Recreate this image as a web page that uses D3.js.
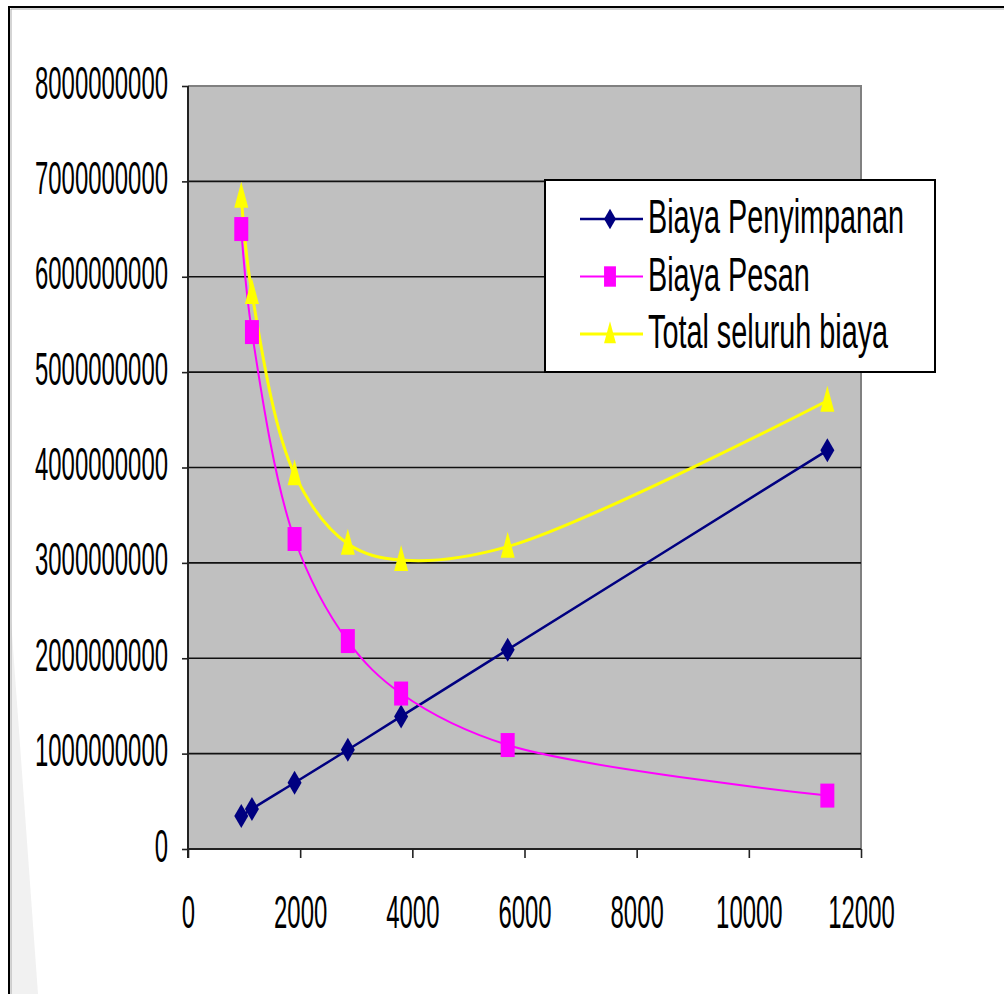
<!DOCTYPE html>
<html>
<head>
<meta charset="utf-8">
<script src="https://cdn.jsdelivr.net/npm/d3@7"></script>
<style>
  body { margin: 0; background: #fff; }
  svg { display: block; font-family: "Liberation Sans", Arial, sans-serif; }
</style>
</head>
<body>
<div id="chart"></div>
<script>
// values
const qty = [950, 1140, 1900, 2850, 3800, 5700, 11400];
const biayaPenyimpanan = [3.45e8, 4.2e8, 6.95e8, 1.04e9, 1.39e9, 2.09e9, 4.18e9];
const biayaPesan = [6.5e9, 5.42e9, 3.25e9, 2.18e9, 1.63e9, 1.09e9, 5.6e8];
const totalBiaya = [6.84e9, 5.83e9, 3.93e9, 3.2e9, 3.03e9, 3.17e9, 4.7e9];
const seriesNames = ["Biaya Penyimpanan", "Biaya Pesan", "Total seluruh biaya"];
const xTicks = [0, 2000, 4000, 6000, 8000, 10000, 12000];
const yTicks = [0, 1e9, 2e9, 3e9, 4e9, 5e9, 6e9, 7e9, 8e9];

const W = 1004, H = 994;
const plot = { left: 188, right: 861, top: 86, bottom: 849 };

const svg = d3.select("#chart").append("svg")
  .attr("width", W)
  .attr("height", H);

svg.append("rect").attr("width", W).attr("height", H).attr("fill", "#fff");

// faint wedge at lower left
svg.append("path")
  .attr("d", "M11,620 L38,994 L11,994 Z")
  .attr("fill", "#f1f1f1");

// outer frame (top and left)
svg.append("path")
  .attr("d", `M9,${H} L9,7 L${W},7`)
  .attr("fill", "none")
  .attr("stroke", "#000")
  .attr("stroke-width", 2);
svg.append("path")
  .attr("d", `M11,${H} L11,9 L${W},9`)
  .attr("fill", "none")
  .attr("stroke", "#aaa")
  .attr("stroke-width", 1);

const x = d3.scaleLinear().domain([0, 12000]).range([plot.left, plot.right]);
const y = d3.scaleLinear().domain([0, 8e9]).range([plot.bottom, plot.top]);

// plot area
svg.append("rect")
  .attr("x", plot.left)
  .attr("y", plot.top)
  .attr("width", plot.right - plot.left)
  .attr("height", plot.bottom - plot.top)
  .attr("fill", "#c0c0c0");

svg.append("path")
  .attr("d", `M${plot.left},${plot.top} L${plot.right},${plot.top} L${plot.right},${plot.bottom}`)
  .attr("fill", "none")
  .attr("stroke", "#808080")
  .attr("stroke-width", 2);

// gridlines
svg.append("g")
  .selectAll("line")
  .data(yTicks.slice(1, -1))
  .join("line")
  .attr("x1", plot.left)
  .attr("x2", plot.right)
  .attr("y1", d => y(d))
  .attr("y2", d => y(d))
  .attr("stroke", "#111")
  .attr("stroke-width", 1.6);

const sx = 0.52;

// y axis
const yAxis = svg.append("g")
  .attr("transform", `translate(${plot.left},0)`)
  .call(d3.axisLeft(y).tickValues(yTicks).tickFormat(d3.format("d")).tickSize(6).tickPadding(0));
yAxis.select(".domain").attr("stroke", "#222").attr("stroke-width", 2)
  .attr("d", `M0,${plot.top} V${plot.bottom + 9}`);
yAxis.selectAll(".tick line").attr("stroke", "#222").attr("stroke-width", 1.6);
yAxis.selectAll(".tick text")
  .attr("font-size", 46)
  .attr("fill", "#000")
  .attr("x", -20 / sx)
  .attr("dy", null)
  .attr("y", 12)
  .attr("transform", `scale(${sx},1)`);

// x axis
const xAxis = svg.append("g")
  .attr("transform", `translate(0,${plot.bottom})`)
  .call(d3.axisBottom(x).tickValues(xTicks).tickFormat(d3.format("d")).tickSize(9).tickPadding(0));
xAxis.select(".domain").attr("stroke", "#222").attr("stroke-width", 2)
  .attr("d", `M${plot.left},0 H${plot.right}`);
xAxis.selectAll(".tick line").attr("stroke", "#222").attr("stroke-width", 1.6);
xAxis.selectAll(".tick text")
  .attr("font-size", 46)
  .attr("fill", "#000")
  .attr("dy", null)
  .attr("y", 79)
  .attr("transform", `scale(${sx},1)`);

// series
const series = [
  { name: seriesNames[0], values: biayaPenyimpanan, color: "#000080", width: 2.5, marker: "diamond" },
  { name: seriesNames[1], values: biayaPesan, color: "#ff00ff", width: 2, marker: "square" },
  { name: seriesNames[2], values: totalBiaya, color: "#ffff00", width: 3, marker: "triangle" }
];

function markerPath(type) {
  if (type === "diamond") return "M0,-12 L7,0 L0,12 L-7,0 Z";
  if (type === "square") return "M-7,-12 L7,-12 L7,12 L-7,12 Z";
  return "M0,-15 L7,11 L-7,11 Z";
}

const line = d3.line()
  .x((d, i) => x(qty[i]))
  .y(d => y(d))
  .curve(d3.curveCatmullRom.alpha(0.5));

series.forEach(s => {
  svg.append("path")
    .datum(s.values)
    .attr("d", line)
    .attr("fill", "none")
    .attr("stroke", s.color)
    .attr("stroke-width", s.width);
});

series.forEach(s => {
  svg.append("g")
    .selectAll("path")
    .data(s.values)
    .join("path")
    .attr("transform", (d, i) => `translate(${x(qty[i])},${y(d)})`)
    .attr("d", markerPath(s.marker))
    .attr("fill", s.color);
});

// legend
const legend = svg.append("g").attr("transform", "translate(545,180)");
legend.append("rect")
  .attr("width", 390)
  .attr("height", 192)
  .attr("fill", "#fff")
  .attr("stroke", "#000")
  .attr("stroke-width", 2);

const rows = legend.selectAll("g.row")
  .data(series)
  .join("g")
  .attr("class", "row")
  .attr("transform", (d, i) => `translate(0,${39 + i * 57.5})`);

rows.append("line")
  .attr("x1", 35)
  .attr("x2", 98)
  .attr("stroke", d => d.color)
  .attr("stroke-width", d => d.width);

rows.append("path")
  .attr("transform", "translate(65,0) scale(0.85)")
  .attr("d", d => markerPath(d.marker))
  .attr("fill", d => d.color);

const lx = 0.6;
rows.append("text")
  .attr("transform", `scale(${lx},1)`)
  .attr("x", 103 / lx)
  .attr("y", 14)
  .attr("font-size", 48)
  .attr("fill", "#000")
  .text(d => d.name);
</script>
</body>
</html>
